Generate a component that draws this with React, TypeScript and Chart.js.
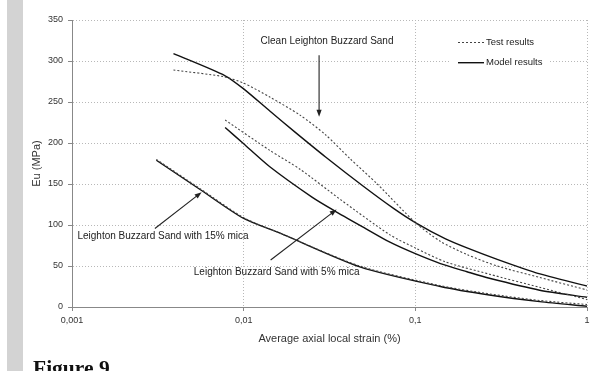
import React, { useEffect, useRef } from "react";
import { Chart, registerables } from "chart.js";

Chart.register(...registerables);

// ---- data (strain in %, Eu in MPa) ----
const strainCleanModel = [0.0039, 0.0078, 0.01, 0.0142, 0.02, 0.03, 0.05, 0.075, 0.1, 0.15, 0.2, 0.3, 0.5, 1];
const euCleanModel = [309, 282, 266, 239, 213, 183, 147, 120, 103, 83, 72, 58, 42, 25.5];

const strainCleanTest = [0.0039, 0.0076, 0.01, 0.0142, 0.0213, 0.03, 0.0416, 0.06, 0.1, 0.14, 0.2, 0.3, 0.53, 1];
const euCleanTest = [289, 281, 273, 256, 234, 210, 181, 150, 103, 80, 64, 50, 36, 20.7];

const strain5Model = [0.0078, 0.01, 0.0142, 0.025, 0.034, 0.05, 0.0711, 0.1, 0.14, 0.2, 0.27, 0.53, 1];
const eu5Model = [219, 199, 171, 134, 117, 97, 79, 65, 53, 43, 35, 20.5, 11.8];

const strain5Test = [0.0078, 0.0142, 0.0213, 0.0372, 0.0711, 0.1, 0.15, 0.27, 0.53, 1];
const eu5Test = [228, 191, 168, 130, 88, 72, 55, 40, 24, 9];

const strain15Model = [0.0031, 0.0056, 0.01, 0.0163, 0.0475, 0.14, 0.27, 0.53, 1];
const eu15Model = [179, 143, 108, 90, 49, 25, 14.6, 6.5, 1];

const strain15Test = [0.0031, 0.0056, 0.01, 0.0163, 0.0475, 0.14, 0.27, 0.53, 1];
const eu15Test = [180, 144, 109, 90, 50, 26, 16, 8, 3];

const xTickValues = [0.001, 0.01, 0.1, 1];
const xTickLabels = ["0,001", "0,01", "0,1", "1"];
const yTickStep = 50;
const yMin = 0;
const yMax = 350;

const xTitle = "Average axial local strain (%)";
const yTitle = "Eu (MPa)";
const legendTest = "Test results";
const legendModel = "Model results";
const figureCaption = "Figure 9";

// annotations in data coordinates (text centre, arrow start, arrow tip)
const annClean = { text: "Clean Leighton Buzzard Sand", tx: 0.0306, ty: 324, fx: 0.0275, fy: 307, ax: 0.0275, ay: 232 };
const ann15 = { text: "Leighton Buzzard Sand with 15% mica", tx: 0.00339, ty: 86.6, fx: 0.00304, fy: 95.7, ax: 0.00569, ay: 140 };
const ann5 = { text: "Leighton Buzzard Sand with 5% mica", tx: 0.01556, ty: 42.3, fx: 0.01436, fy: 57.3, ax: 0.0348, ay: 119 };

const FONT = "'Liberation Sans', Arial, sans-serif";

function zip(xs: number[], ys: number[]) {
  return xs.map((x, i) => ({ x, y: ys[i] }));
}

const annotationPlugin = {
  id: "annotations",
  afterDatasetsDraw(chart: any) {
    const { ctx, chartArea } = chart;
    const xs = chart.scales.x;
    const ys = chart.scales.y;
    ctx.save();
    const drawAnn = (a: any) => {
      const tx = xs.getPixelForValue(a.tx);
      const ty = ys.getPixelForValue(a.ty);
      ctx.fillStyle = "#222";
      ctx.font = `10px ${FONT}`;
      ctx.textAlign = "center";
      ctx.textBaseline = "middle";
      ctx.fillText(a.text, tx, ty);
      const x1 = xs.getPixelForValue(a.fx);
      const y1 = ys.getPixelForValue(a.fy);
      const x2 = xs.getPixelForValue(a.ax);
      const y2 = ys.getPixelForValue(a.ay);
      const ang = Math.atan2(y2 - y1, x2 - x1);
      const hl = 7;
      const hw = 2.6;
      ctx.strokeStyle = "#222";
      ctx.lineWidth = 1.1;
      ctx.beginPath();
      ctx.moveTo(x1, y1);
      ctx.lineTo(x2 - Math.cos(ang) * hl * 0.8, y2 - Math.sin(ang) * hl * 0.8);
      ctx.stroke();
      ctx.beginPath();
      ctx.moveTo(x2, y2);
      ctx.lineTo(x2 - Math.cos(ang) * hl - Math.sin(ang) * hw, y2 - Math.sin(ang) * hl + Math.cos(ang) * hw);
      ctx.lineTo(x2 - Math.cos(ang) * hl + Math.sin(ang) * hw, y2 - Math.sin(ang) * hl - Math.cos(ang) * hw);
      ctx.closePath();
      ctx.fillStyle = "#222";
      ctx.fill();
    };
    drawAnn(annClean);
    drawAnn(ann15);
    drawAnn(ann5);

    // legend box
    const lx = chartArea.right - 137;
    const ly = chartArea.top + 12;
    ctx.fillStyle = "#fff";
    ctx.fillRect(lx, ly, 100, 40);
    ctx.font = `9.5px ${FONT}`;
    ctx.textAlign = "left";
    ctx.textBaseline = "middle";
    ctx.strokeStyle = "#444";
    ctx.lineWidth = 1;
    ctx.setLineDash([2, 2]);
    ctx.beginPath();
    ctx.moveTo(lx + 8, ly + 10.5);
    ctx.lineTo(lx + 34, ly + 10.5);
    ctx.stroke();
    ctx.setLineDash([]);
    ctx.strokeStyle = "#111";
    ctx.lineWidth = 1.4;
    ctx.beginPath();
    ctx.moveTo(lx + 8, ly + 30.7);
    ctx.lineTo(lx + 34, ly + 30.7);
    ctx.stroke();
    ctx.fillStyle = "#222";
    ctx.fillText(legendTest, lx + 36, ly + 10.5);
    ctx.fillText(legendModel, lx + 36, ly + 30.7);
    ctx.restore();
  },
};

export default function App() {
  const ref = useRef<HTMLCanvasElement>(null);
  useEffect(() => {
    if (!ref.current) return;
    const modelStyle = { borderColor: "#111", borderWidth: 1.4, pointRadius: 0, fill: false, tension: 0.25 };
    const testStyle = { borderColor: "#444", borderWidth: 1.1, borderDash: [2, 2], pointRadius: 0, fill: false, tension: 0.25 };
    const chart = new Chart(ref.current, {
      type: "line",
      data: {
        datasets: [
          { label: "Clean test", data: zip(strainCleanTest, euCleanTest), ...testStyle },
          { label: "Clean model", data: zip(strainCleanModel, euCleanModel), ...modelStyle },
          { label: "5% test", data: zip(strain5Test, eu5Test), ...testStyle },
          { label: "5% model", data: zip(strain5Model, eu5Model), ...modelStyle },
          { label: "15% test", data: zip(strain15Test, eu15Test), ...testStyle },
          { label: "15% model", data: zip(strain15Model, eu15Model), ...modelStyle },
        ],
      },
      options: {
        responsive: false,
        animation: false,
        layout: { padding: { left: 0, top: 20, right: 10, bottom: 0 } },
        plugins: { legend: { display: false }, tooltip: { enabled: false } },
        scales: {
          x: {
            type: "logarithmic",
            min: 0.001,
            max: 1,
            afterBuildTicks: (s: any) => {
              s.ticks = xTickValues.map((v) => ({ value: v }));
            },
            afterFit: (s: any) => {
              s.height = 64;
            },
            ticks: {
              autoSkip: false,
              maxRotation: 0,
              padding: 4,
              color: "#333",
              font: { family: FONT, size: 9 },
              callback: (v: any) => {
                const i = xTickValues.indexOf(Number(v));
                return i >= 0 ? xTickLabels[i] : "";
              },
            },
            grid: { color: "#b8b8b8", lineWidth: 1, tickLength: 4, tickColor: "#888", tickBorderDash: [] },
            border: { color: "#888", width: 1, dash: [1, 2] },
            title: { display: true, text: xTitle, color: "#333", font: { family: FONT, size: 11 }, padding: { top: 0, bottom: 25.5 } },
          },
          y: {
            type: "linear",
            min: yMin,
            max: yMax,
            afterFit: (s: any) => {
              s.width = 72;
            },
            ticks: { stepSize: yTickStep, padding: 5, color: "#333", font: { family: FONT, size: 9 } },
            grid: { color: "#b8b8b8", lineWidth: 1, tickLength: 4, tickColor: "#888", tickBorderDash: [] },
            border: { color: "#888", width: 1, dash: [1, 2] },
            title: { display: true, text: yTitle, color: "#333", font: { family: FONT, size: 11 }, padding: { top: 30.5, bottom: 0 } },
          },
        },
      },
      plugins: [annotationPlugin],
    });
    return () => chart.destroy();
  }, []);
  return (
    <div style={{ position: "fixed", left: 0, top: 0, width: 597, height: 371, overflow: "hidden", background: "#fff" }}>
      <div style={{ position: "absolute", left: 7, top: 0, width: 16, height: 371, background: "#d3d3d3" }} />
      <canvas ref={ref} width={597} height={371} style={{ position: "absolute", left: 0, top: 0, width: 597, height: 371 }} />
      <div
        style={{
          position: "absolute",
          left: 33,
          top: 357,
          fontFamily: "'Liberation Serif', 'Times New Roman', serif",
          fontWeight: "bold",
          fontSize: 21.5,
          lineHeight: "22px",
          color: "#111",
          whiteSpace: "nowrap",
        }}
      >
        {figureCaption}
      </div>
    </div>
  );
}
